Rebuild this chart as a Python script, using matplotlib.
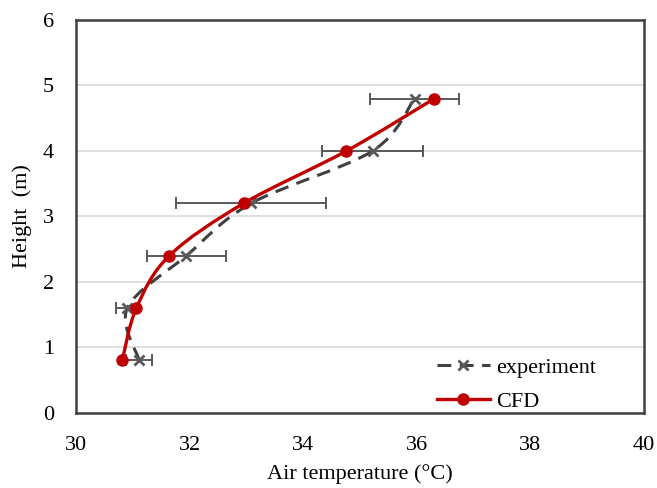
import matplotlib
matplotlib.use('Agg')
import matplotlib.pyplot as plt
from matplotlib.path import Path
from matplotlib.patches import PathPatch
from matplotlib.lines import Line2D

plt.rcParams['font.family'] = ['Liberation Serif', 'DejaVu Serif']

# data
heights = [0.8, 1.6, 2.4, 3.2, 4.0, 4.8]
exp_temp = [31.11, 30.90, 31.94, 33.08, 35.22, 35.96]
exp_err = [0.23, 0.20, 0.70, 1.32, 0.89, 0.78]
cfd_temp = [30.81, 31.06, 31.64, 32.95, 34.76, 36.31]


def smooth_path(xs, ys):
    # Excel-like smoothed line: Catmull-Rom segments as cubic Bezier curves
    pts = list(zip(xs, ys))
    n = len(pts)
    verts = [pts[0]]
    codes = [Path.MOVETO]
    for i in range(n - 1):
        p0 = pts[i - 1] if i > 0 else pts[i]
        p1 = pts[i]
        p2 = pts[i + 1]
        p3 = pts[i + 2] if i + 2 < n else pts[i + 1]
        c1 = (p1[0] + (p2[0] - p0[0]) / 6, p1[1] + (p2[1] - p0[1]) / 6)
        c2 = (p2[0] - (p3[0] - p1[0]) / 6, p2[1] - (p3[1] - p1[1]) / 6)
        verts += [c1, c2, p2]
        codes += [Path.CURVE4] * 3
    return Path(verts, codes)


fig = plt.figure(figsize=(6.57, 4.88), dpi=100)
ax = fig.add_axes([0.116, 0.154, 0.864, 0.805])

exp_color = '#404040'
cfd_color = '#c00000'
dash = (0, (4.5, 2.8))

ax.add_patch(PathPatch(smooth_path(exp_temp, heights), fill=False,
                       edgecolor=exp_color, lw=2.2, linestyle=dash, zorder=3))
ax.errorbar(exp_temp, heights, xerr=exp_err, fmt='none', ecolor='#595959',
            elinewidth=1.4, capsize=4.5, capthick=1.4, zorder=2)
ax.plot(exp_temp, heights, linestyle='none', marker='x', color='#595959',
        markersize=7, mew=2, zorder=4)

ax.add_patch(PathPatch(smooth_path(cfd_temp, heights), fill=False,
                       edgecolor=cfd_color, lw=2.4, zorder=5))
ax.plot(cfd_temp, heights, linestyle='none', marker='o', color=cfd_color,
        markersize=8, zorder=6)

ax.set_xlim(30, 40)
ax.set_ylim(0, 6)
ax.set_xticks([30, 32, 34, 36, 38, 40])
ax.set_yticks([0, 1, 2, 3, 4, 5, 6])
ax.yaxis.grid(True, color='#d9d9d9', lw=1.2)
ax.set_axisbelow(True)
ax.tick_params(axis='x', length=0, labelsize=16, pad=17)
ax.tick_params(axis='y', length=0, labelsize=16, pad=16)
for s in ax.spines.values():
    s.set_color('#404040')
    s.set_linewidth(1.8)

ax.set_xlabel('Air temperature (°C)', fontsize=16, labelpad=6)
ax.set_ylabel('Height  (m)', fontsize=16, labelpad=8)

handles = [
    Line2D([], [], color=exp_color, lw=2.2, linestyle=dash,
           marker='x', markersize=7, mew=2, markeredgecolor='#595959'),
    Line2D([], [], color=cfd_color, lw=2.4, marker='o', markersize=8),
]
ax.legend(handles, ['experiment', 'CFD'], loc='lower right',
          bbox_to_anchor=(0.952, -0.048), frameon=False, fontsize=16,
          handlelength=2.4, handletextpad=0.3, labelspacing=0.6)

fig.savefig('out.png', dpi=100)
